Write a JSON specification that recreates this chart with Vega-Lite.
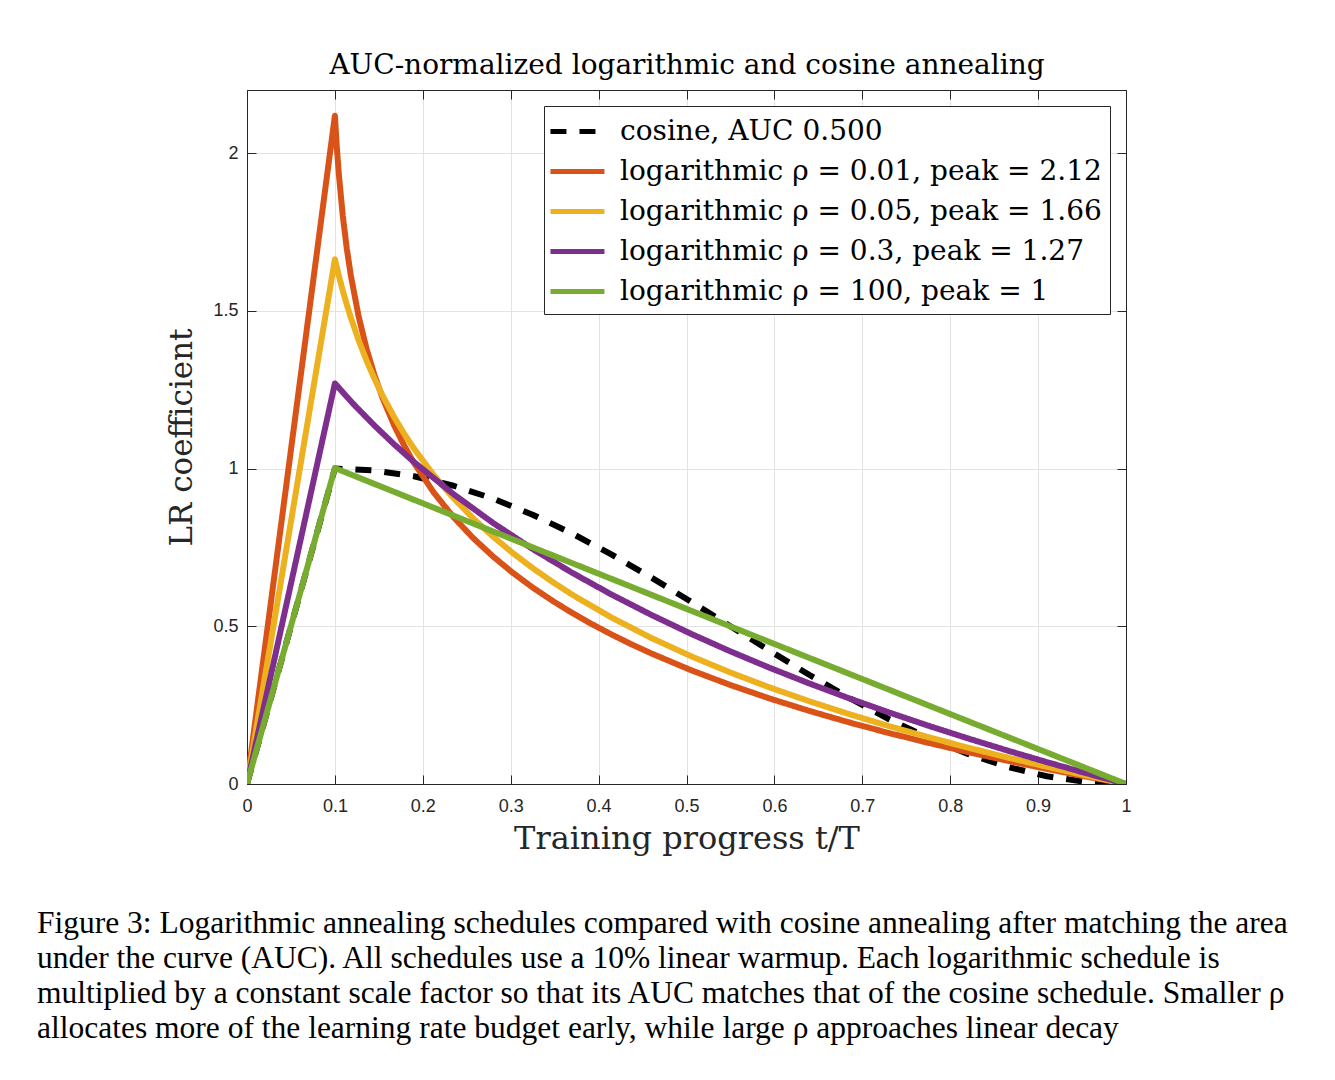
{
  "$schema": "https://vega.github.io/schema/vega-lite/v6.json",
  "width": 879,
  "height": 694,
  "autosize": {"type": "none"},
  "padding": {"left": 247, "top": 90, "right": 209, "bottom": 296},
  "background": "white",
  "title": {
    "text": [
      "Figure 3: Logarithmic annealing schedules compared with cosine annealing after matching the area",
      "under the curve (AUC). All schedules use a 10% linear warmup.  Each logarithmic schedule is",
      "multiplied by a constant scale factor so that its AUC matches that of the cosine schedule. Smaller ρ",
      "allocates more of the learning rate budget early, while large ρ approaches linear decay"
    ],
    "orient": "bottom",
    "anchor": "start",
    "frame": "group",
    "dx": -210,
    "offset": 54,
    "font": "Liberation Serif",
    "fontSize": 31.5,
    "fontWeight": "normal",
    "lineHeight": 35,
    "color": "black",
    "align": "left"
  },
  "data": {
    "values": [
      {"t": 0, "v": 0, "s": "cosine, AUC 0.500"},
      {"t": 0.1, "v": 1, "s": "cosine, AUC 0.500"},
      {"t": 0.145, "v": 0.9938, "s": "cosine, AUC 0.500"},
      {"t": 0.19, "v": 0.9755, "s": "cosine, AUC 0.500"},
      {"t": 0.235, "v": 0.9455, "s": "cosine, AUC 0.500"},
      {"t": 0.28, "v": 0.9045, "s": "cosine, AUC 0.500"},
      {"t": 0.325, "v": 0.8536, "s": "cosine, AUC 0.500"},
      {"t": 0.37, "v": 0.7939, "s": "cosine, AUC 0.500"},
      {"t": 0.415, "v": 0.727, "s": "cosine, AUC 0.500"},
      {"t": 0.46, "v": 0.6545, "s": "cosine, AUC 0.500"},
      {"t": 0.505, "v": 0.5782, "s": "cosine, AUC 0.500"},
      {"t": 0.55, "v": 0.5, "s": "cosine, AUC 0.500"},
      {"t": 0.595, "v": 0.4218, "s": "cosine, AUC 0.500"},
      {"t": 0.64, "v": 0.3455, "s": "cosine, AUC 0.500"},
      {"t": 0.685, "v": 0.273, "s": "cosine, AUC 0.500"},
      {"t": 0.73, "v": 0.2061, "s": "cosine, AUC 0.500"},
      {"t": 0.775, "v": 0.1464, "s": "cosine, AUC 0.500"},
      {"t": 0.82, "v": 0.0955, "s": "cosine, AUC 0.500"},
      {"t": 0.865, "v": 0.0545, "s": "cosine, AUC 0.500"},
      {"t": 0.91, "v": 0.0245, "s": "cosine, AUC 0.500"},
      {"t": 0.955, "v": 0.0062, "s": "cosine, AUC 0.500"},
      {"t": 1, "v": 0, "s": "cosine, AUC 0.500"},

      {"t": 0, "v": 0, "s": "logarithmic ρ = 0.01, peak = 2.12"},
      {"t": 0.1, "v": 2.1185, "s": "logarithmic ρ = 0.01, peak = 2.12"},
      {"t": 0.10225, "v": 2.0161, "s": "logarithmic ρ = 0.01, peak = 2.12"},
      {"t": 0.1045, "v": 1.9324, "s": "logarithmic ρ = 0.01, peak = 2.12"},
      {"t": 0.109, "v": 1.8003, "s": "logarithmic ρ = 0.01, peak = 2.12"},
      {"t": 0.1135, "v": 1.6979, "s": "logarithmic ρ = 0.01, peak = 2.12"},
      {"t": 0.118, "v": 1.6142, "s": "logarithmic ρ = 0.01, peak = 2.12"},
      {"t": 0.127, "v": 1.4822, "s": "logarithmic ρ = 0.01, peak = 2.12"},
      {"t": 0.136, "v": 1.3797, "s": "logarithmic ρ = 0.01, peak = 2.12"},
      {"t": 0.145, "v": 1.296, "s": "logarithmic ρ = 0.01, peak = 2.12"},
      {"t": 0.154, "v": 1.2253, "s": "logarithmic ρ = 0.01, peak = 2.12"},
      {"t": 0.1675, "v": 1.1362, "s": "logarithmic ρ = 0.01, peak = 2.12"},
      {"t": 0.17875, "v": 1.0732, "s": "logarithmic ρ = 0.01, peak = 2.12"},
      {"t": 0.19, "v": 1.0178, "s": "logarithmic ρ = 0.01, peak = 2.12"},
      {"t": 0.2125, "v": 0.9238, "s": "logarithmic ρ = 0.01, peak = 2.12"},
      {"t": 0.235, "v": 0.8458, "s": "logarithmic ρ = 0.01, peak = 2.12"},
      {"t": 0.2575, "v": 0.7791, "s": "logarithmic ρ = 0.01, peak = 2.12"},
      {"t": 0.28, "v": 0.721, "s": "logarithmic ρ = 0.01, peak = 2.12"},
      {"t": 0.3025, "v": 0.6693, "s": "logarithmic ρ = 0.01, peak = 2.12"},
      {"t": 0.325, "v": 0.6229, "s": "logarithmic ρ = 0.01, peak = 2.12"},
      {"t": 0.3475, "v": 0.5808, "s": "logarithmic ρ = 0.01, peak = 2.12"},
      {"t": 0.37, "v": 0.5422, "s": "logarithmic ρ = 0.01, peak = 2.12"},
      {"t": 0.3925, "v": 0.5066, "s": "logarithmic ρ = 0.01, peak = 2.12"},
      {"t": 0.415, "v": 0.4736, "s": "logarithmic ρ = 0.01, peak = 2.12"},
      {"t": 0.4375, "v": 0.4427, "s": "logarithmic ρ = 0.01, peak = 2.12"},
      {"t": 0.46, "v": 0.4139, "s": "logarithmic ρ = 0.01, peak = 2.12"},
      {"t": 0.505, "v": 0.361, "s": "logarithmic ρ = 0.01, peak = 2.12"},
      {"t": 0.55, "v": 0.3137, "s": "logarithmic ρ = 0.01, peak = 2.12"},
      {"t": 0.595, "v": 0.2707, "s": "logarithmic ρ = 0.01, peak = 2.12"},
      {"t": 0.64, "v": 0.2315, "s": "logarithmic ρ = 0.01, peak = 2.12"},
      {"t": 0.685, "v": 0.1953, "s": "logarithmic ρ = 0.01, peak = 2.12"},
      {"t": 0.73, "v": 0.1618, "s": "logarithmic ρ = 0.01, peak = 2.12"},
      {"t": 0.775, "v": 0.1306, "s": "logarithmic ρ = 0.01, peak = 2.12"},
      {"t": 0.82, "v": 0.1013, "s": "logarithmic ρ = 0.01, peak = 2.12"},
      {"t": 0.865, "v": 0.0738, "s": "logarithmic ρ = 0.01, peak = 2.12"},
      {"t": 0.91, "v": 0.0479, "s": "logarithmic ρ = 0.01, peak = 2.12"},
      {"t": 0.955, "v": 0.0233, "s": "logarithmic ρ = 0.01, peak = 2.12"},
      {"t": 1, "v": 0, "s": "logarithmic ρ = 0.01, peak = 2.12"},

      {"t": 0, "v": 0, "s": "logarithmic ρ = 0.05, peak = 1.66"},
      {"t": 0.1, "v": 1.6633, "s": "logarithmic ρ = 0.05, peak = 1.66"},
      {"t": 0.1045, "v": 1.6112, "s": "logarithmic ρ = 0.05, peak = 1.66"},
      {"t": 0.109, "v": 1.5637, "s": "logarithmic ρ = 0.05, peak = 1.66"},
      {"t": 0.1135, "v": 1.5199, "s": "logarithmic ρ = 0.05, peak = 1.66"},
      {"t": 0.118, "v": 1.4795, "s": "logarithmic ρ = 0.05, peak = 1.66"},
      {"t": 0.127, "v": 1.4065, "s": "logarithmic ρ = 0.05, peak = 1.66"},
      {"t": 0.136, "v": 1.3422, "s": "logarithmic ρ = 0.05, peak = 1.66"},
      {"t": 0.145, "v": 1.2846, "s": "logarithmic ρ = 0.05, peak = 1.66"},
      {"t": 0.154, "v": 1.2325, "s": "logarithmic ρ = 0.05, peak = 1.66"},
      {"t": 0.1675, "v": 1.1627, "s": "logarithmic ρ = 0.05, peak = 1.66"},
      {"t": 0.17875, "v": 1.1106, "s": "logarithmic ρ = 0.05, peak = 1.66"},
      {"t": 0.19, "v": 1.0631, "s": "logarithmic ρ = 0.05, peak = 1.66"},
      {"t": 0.2125, "v": 0.9789, "s": "logarithmic ρ = 0.05, peak = 1.66"},
      {"t": 0.235, "v": 0.9059, "s": "logarithmic ρ = 0.05, peak = 1.66"},
      {"t": 0.2575, "v": 0.8416, "s": "logarithmic ρ = 0.05, peak = 1.66"},
      {"t": 0.28, "v": 0.784, "s": "logarithmic ρ = 0.05, peak = 1.66"},
      {"t": 0.3025, "v": 0.7319, "s": "logarithmic ρ = 0.05, peak = 1.66"},
      {"t": 0.325, "v": 0.6844, "s": "logarithmic ρ = 0.05, peak = 1.66"},
      {"t": 0.3475, "v": 0.6407, "s": "logarithmic ρ = 0.05, peak = 1.66"},
      {"t": 0.37, "v": 0.6002, "s": "logarithmic ρ = 0.05, peak = 1.66"},
      {"t": 0.415, "v": 0.5272, "s": "logarithmic ρ = 0.05, peak = 1.66"},
      {"t": 0.46, "v": 0.4629, "s": "logarithmic ρ = 0.05, peak = 1.66"},
      {"t": 0.505, "v": 0.4053, "s": "logarithmic ρ = 0.05, peak = 1.66"},
      {"t": 0.55, "v": 0.3533, "s": "logarithmic ρ = 0.05, peak = 1.66"},
      {"t": 0.595, "v": 0.3057, "s": "logarithmic ρ = 0.05, peak = 1.66"},
      {"t": 0.64, "v": 0.262, "s": "logarithmic ρ = 0.05, peak = 1.66"},
      {"t": 0.685, "v": 0.2215, "s": "logarithmic ρ = 0.05, peak = 1.66"},
      {"t": 0.73, "v": 0.1838, "s": "logarithmic ρ = 0.05, peak = 1.66"},
      {"t": 0.775, "v": 0.1486, "s": "logarithmic ρ = 0.05, peak = 1.66"},
      {"t": 0.82, "v": 0.1154, "s": "logarithmic ρ = 0.05, peak = 1.66"},
      {"t": 0.865, "v": 0.0842, "s": "logarithmic ρ = 0.05, peak = 1.66"},
      {"t": 0.91, "v": 0.0547, "s": "logarithmic ρ = 0.05, peak = 1.66"},
      {"t": 0.955, "v": 0.0267, "s": "logarithmic ρ = 0.05, peak = 1.66"},
      {"t": 1, "v": 0, "s": "logarithmic ρ = 0.05, peak = 1.66"},

      {"t": 0, "v": 0, "s": "logarithmic ρ = 0.3, peak = 1.27"},
      {"t": 0.1, "v": 1.2698, "s": "logarithmic ρ = 0.3, peak = 1.27"},
      {"t": 0.11125, "v": 1.2344, "s": "logarithmic ρ = 0.3, peak = 1.27"},
      {"t": 0.1225, "v": 1.2004, "s": "logarithmic ρ = 0.3, peak = 1.27"},
      {"t": 0.145, "v": 1.1363, "s": "logarithmic ρ = 0.3, peak = 1.27"},
      {"t": 0.1675, "v": 1.0765, "s": "logarithmic ρ = 0.3, peak = 1.27"},
      {"t": 0.19, "v": 1.0206, "s": "logarithmic ρ = 0.3, peak = 1.27"},
      {"t": 0.235, "v": 0.9187, "s": "logarithmic ρ = 0.3, peak = 1.27"},
      {"t": 0.28, "v": 0.8274, "s": "logarithmic ρ = 0.3, peak = 1.27"},
      {"t": 0.325, "v": 0.7449, "s": "logarithmic ρ = 0.3, peak = 1.27"},
      {"t": 0.37, "v": 0.6695, "s": "logarithmic ρ = 0.3, peak = 1.27"},
      {"t": 0.415, "v": 0.6002, "s": "logarithmic ρ = 0.3, peak = 1.27"},
      {"t": 0.46, "v": 0.5361, "s": "logarithmic ρ = 0.3, peak = 1.27"},
      {"t": 0.505, "v": 0.4763, "s": "logarithmic ρ = 0.3, peak = 1.27"},
      {"t": 0.55, "v": 0.4204, "s": "logarithmic ρ = 0.3, peak = 1.27"},
      {"t": 0.595, "v": 0.3679, "s": "logarithmic ρ = 0.3, peak = 1.27"},
      {"t": 0.64, "v": 0.3184, "s": "logarithmic ρ = 0.3, peak = 1.27"},
      {"t": 0.685, "v": 0.2716, "s": "logarithmic ρ = 0.3, peak = 1.27"},
      {"t": 0.73, "v": 0.2272, "s": "logarithmic ρ = 0.3, peak = 1.27"},
      {"t": 0.775, "v": 0.1849, "s": "logarithmic ρ = 0.3, peak = 1.27"},
      {"t": 0.82, "v": 0.1447, "s": "logarithmic ρ = 0.3, peak = 1.27"},
      {"t": 0.865, "v": 0.1062, "s": "logarithmic ρ = 0.3, peak = 1.27"},
      {"t": 0.91, "v": 0.0693, "s": "logarithmic ρ = 0.3, peak = 1.27"},
      {"t": 0.955, "v": 0.034, "s": "logarithmic ρ = 0.3, peak = 1.27"},
      {"t": 1, "v": 0, "s": "logarithmic ρ = 0.3, peak = 1.27"},

      {"t": 0, "v": 0, "s": "logarithmic ρ = 100, peak = 1"},
      {"t": 0.1, "v": 1.0015, "s": "logarithmic ρ = 100, peak = 1"},
      {"t": 0.325, "v": 0.7502, "s": "logarithmic ρ = 100, peak = 1"},
      {"t": 0.55, "v": 0.4995, "s": "logarithmic ρ = 100, peak = 1"},
      {"t": 0.775, "v": 0.2494, "s": "logarithmic ρ = 100, peak = 1"},
      {"t": 1, "v": 0, "s": "logarithmic ρ = 100, peak = 1"}
    ]
  },
  "layer": [
    {
      "mark": {"type": "line", "strokeWidth": 6, "strokeJoin": "round", "clip": true},
      "encoding": {
        "x": {
          "field": "t",
          "type": "quantitative",
          "scale": {"domain": [0, 1], "nice": false},
          "axis": {
            "orient": "bottom",
            "values": [0, 0.1, 0.2, 0.3, 0.4, 0.5, 0.6, 0.7, 0.8, 0.9, 1],
            "format": ".1~f",
            "labelFlush": false,
            "title": "Training progress t/T",
            "titleFont": "DejaVu Serif",
            "titleFontSize": 32,
            "titleFontWeight": "normal",
            "titleColor": "#262626",
            "titlePadding": 8,
            "labelFont": "Liberation Sans",
            "labelFontSize": 18,
            "labelColor": "#262626",
            "labelPadding": 22,
            "tickSize": -9,
            "tickColor": "#262626",
            "domainColor": "#262626",
            "grid": true,
            "gridColor": "#e3e3e3"
          }
        },
        "y": {
          "field": "v",
          "type": "quantitative",
          "scale": {"domain": [0, 2.2], "nice": false},
          "axis": {
            "orient": "left",
            "values": [0, 0.5, 1, 1.5, 2],
            "format": ".1~f",
            "labelFlush": false,
            "title": "LR coefficient",
            "titleFont": "DejaVu Serif",
            "titleFontSize": 31,
            "titleFontWeight": "normal",
            "titleColor": "#262626",
            "titlePadding": 14,
            "labelFont": "Liberation Sans",
            "labelFontSize": 18,
            "labelColor": "#262626",
            "labelPadding": 18,
            "tickSize": -9,
            "tickColor": "#262626",
            "domainColor": "#262626",
            "grid": true,
            "gridColor": "#e3e3e3"
          }
        },
        "color": {
          "field": "s",
          "type": "nominal",
          "sort": null,
          "scale": {
            "domain": [
              "cosine, AUC 0.500",
              "logarithmic ρ = 0.01, peak = 2.12",
              "logarithmic ρ = 0.05, peak = 1.66",
              "logarithmic ρ = 0.3, peak = 1.27",
              "logarithmic ρ = 100, peak = 1"
            ],
            "range": ["#000000", "#D95319", "#EDB120", "#7E2F8E", "#77AC30"]
          },
          "legend": {
            "title": null,
            "orient": "top-right",
            "offset": 16,
            "fillColor": "white",
            "strokeColor": "#262626",
            "padding": 8,
            "labelFont": "DejaVu Serif",
            "labelFontSize": 28,
            "labelColor": "black",
            "labelLimit": 0,
            "labelOffset": 33,
            "symbolType": "M-1.27,0H2.33",
            "symbolSize": 900,
            "symbolStrokeWidth": 5,
            "rowPadding": 8
          }
        },
        "strokeDash": {
          "field": "s",
          "type": "nominal",
          "sort": null,
          "scale": {
            "domain": [
              "cosine, AUC 0.500",
              "logarithmic ρ = 0.01, peak = 2.12",
              "logarithmic ρ = 0.05, peak = 1.66",
              "logarithmic ρ = 0.3, peak = 1.27",
              "logarithmic ρ = 100, peak = 1"
            ],
            "range": [[16, 13], [1, 0], [1, 0], [1, 0], [1, 0]]
          },
          "legend": {
            "title": null,
            "orient": "top-right"
          }
        }
      }
    },
    {
      "mark": {"type": "line", "opacity": 0},
      "encoding": {
        "x": {
          "field": "t",
          "type": "quantitative",
          "axis": {
            "orient": "top",
            "values": [0, 0.1, 0.2, 0.3, 0.4, 0.5, 0.6, 0.7, 0.8, 0.9, 1],
            "labels": false,
            "tickSize": -9,
            "tickColor": "#262626",
            "domainColor": "#262626",
            "grid": false,
            "title": "AUC-normalized logarithmic and cosine annealing",
            "titleFont": "DejaVu Serif",
            "titleFontSize": 28,
            "titleFontWeight": "normal",
            "titleColor": "black",
            "titlePadding": 10
          }
        },
        "y": {
          "field": "v",
          "type": "quantitative",
          "axis": {
            "orient": "right",
            "values": [0, 0.5, 1, 1.5, 2],
            "labels": false,
            "tickSize": -9,
            "tickColor": "#262626",
            "domainColor": "#262626",
            "grid": false,
            "title": null
          }
        }
      }
    }
  ],
  "resolve": {"axis": {"x": "independent", "y": "independent"}}
}
